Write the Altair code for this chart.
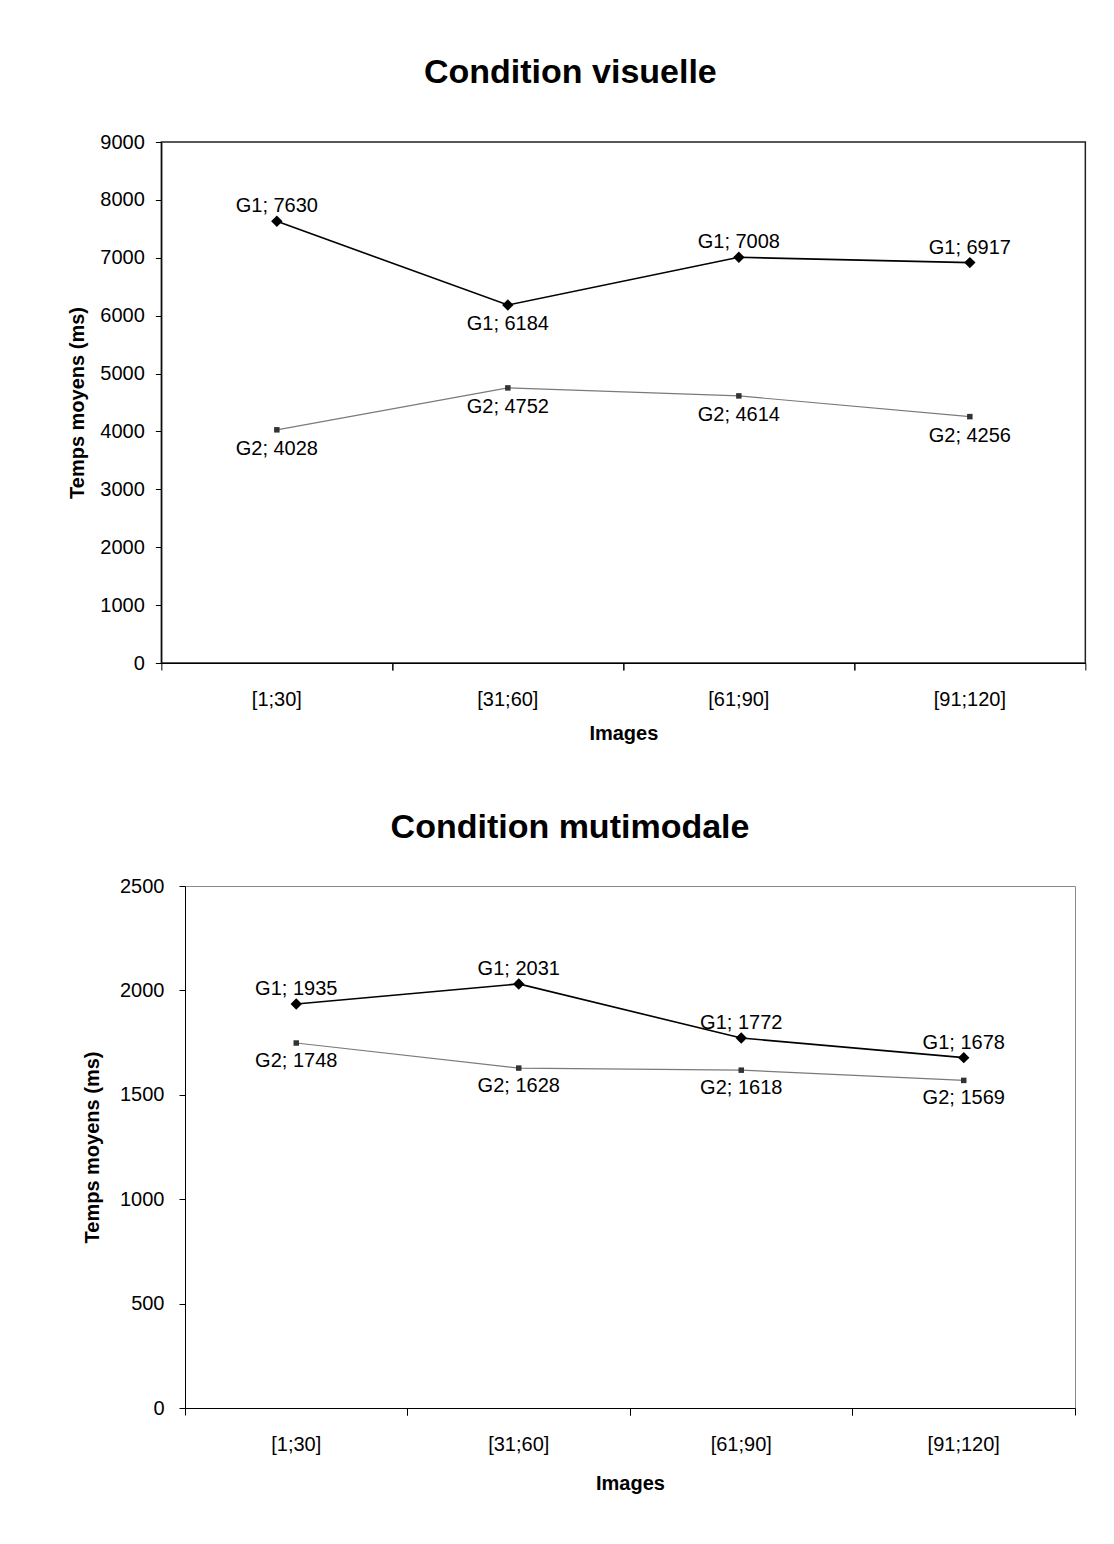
import altair as alt
import pandas as pd

categories = ["[1;30]", "[31;60]", "[61;90]", "[91;120]"]
groups = ["G1", "G2"]

visuelle_g1 = [7630, 6184, 7008, 6917]
visuelle_g2 = [4028, 4752, 4614, 4256]
multi_g1 = [1935, 2031, 1772, 1678]
multi_g2 = [1748, 1628, 1618, 1569]

visuelle_ticks = [0, 1000, 2000, 3000, 4000, 5000, 6000, 7000, 8000, 9000]
multi_ticks = [0, 500, 1000, 1500, 2000, 2500]

# which side of the point each data label sits on
visuelle_side = {"G1": ["above", "below", "above", "above"], "G2": ["below", "below", "below", "below"]}
multi_side = {"G1": ["above", "above", "above", "above"], "G2": ["below", "below", "below", "below"]}

FONT = "Liberation Sans"


def make_df(g1, g2, side):
    rows = []
    for g, vals in (("G1", g1), ("G2", g2)):
        for c, v, s in zip(categories, vals, side[g]):
            rows.append({"cat": c, "group": g, "value": v, "label": f"{g}; {v}", "side": s})
    return pd.DataFrame(rows)


def panel(df, title, ymax, ticks, width, height, stroke, stroke_w,
          lab_pad, title_pad, up_dy, down_dy, title_offset, title_dx, x_title_pad, right_spacer):
    xscale = alt.Scale(type="band", domain=categories, paddingInner=0, paddingOuter=0)
    yscale = alt.Scale(domain=[0, ymax], nice=False, zero=True)
    y_left = alt.Y("value:Q", scale=yscale,
                   axis=alt.Axis(values=ticks, format="d", grid=False, domainColor="black",
                                 tickColor="black", tickSize=6, labelPadding=lab_pad,
                                 labelFontSize=20, title="Temps moyens (ms)", titleFontSize=20,
                                 titleFontWeight="bold", titlePadding=title_pad,
                                 labelColor="black", titleColor="black"))
    y_none = alt.Y("value:Q", scale=yscale, axis=None)
    if right_spacer:
        # invisible right-hand axis: only reserves a little room so the panels line up
        y_last = alt.Y("value:Q", scale=yscale,
                       axis=alt.Axis(orient="right", values=[0], format="d", grid=False,
                                     domain=False, ticks=False, tickSize=0, labelPadding=8,
                                     labelFontSize=10, labelOpacity=0, title=None))
    else:
        y_last = y_none
    x_ticks_axis = alt.Axis(orient="bottom", labels=False, ticks=True, tickSize=7, bandPosition=0,
                            domainColor="black", tickColor="black", title=None, grid=False)
    x_end_ticks_axis = alt.Axis(orient="bottom", labels=False, ticks=True, tickSize=7,
                                bandPosition=1, domain=False, tickColor="black", title=None,
                                grid=False)
    x_labels_axis = alt.Axis(orient="bottom", labels=True, ticks=False, tickSize=0, domain=False,
                             labelFontSize=20, labelPadding=26, labelAngle=0,
                             title="Images", titleFontSize=20, titleFontWeight="bold",
                             titlePadding=x_title_pad, labelColor="black", titleColor="black")
    base = alt.Chart(df)
    color = alt.Color("group:N", scale=alt.Scale(domain=groups, range=["#000000", "#7a7a7a"]),
                      legend=None)
    lines = base.mark_line().encode(
        x=alt.X("cat:N", scale=xscale, axis=x_ticks_axis),
        y=y_left,
        color=color,
        strokeWidth=alt.StrokeWidth("group:N", scale=alt.Scale(domain=groups, range=[1.6, 1.2]),
                                    legend=None),
        detail="group:N",
    )
    pts = base.mark_point(filled=True, opacity=1).encode(
        x=alt.X("cat:N", scale=xscale, axis=x_end_ticks_axis),
        y=y_none,
        shape=alt.Shape("group:N", scale=alt.Scale(domain=groups, range=["diamond", "square"]),
                        legend=None),
        size=alt.Size("group:N", scale=alt.Scale(domain=groups, range=[130, 30]), legend=None),
        color=alt.Color("group:N", scale=alt.Scale(domain=groups, range=["#000000", "#333333"]),
                        legend=None),
    )
    txt_up = base.transform_filter(alt.datum.side == "above").mark_text(
        font=FONT, fontSize=20, baseline="middle", dy=up_dy, color="black"
    ).encode(
        x=alt.X("cat:N", scale=xscale, axis=None),
        y=y_none,
        text="label:N",
    )
    txt_down = base.transform_filter(alt.datum.side == "below").mark_text(
        font=FONT, fontSize=20, baseline="middle", dy=down_dy, color="black"
    ).encode(
        x=alt.X("cat:N", scale=xscale, axis=x_labels_axis),
        y=y_last,
        text="label:N",
    )
    return alt.layer(lines, pts, txt_up, txt_down).resolve_axis(
        x="independent", y="independent"
    ).resolve_scale(color="independent").properties(
        width=width, height=height,
        title=alt.TitleParams(title, fontSize=34, font=FONT, fontWeight="bold",
                              offset=title_offset, anchor="middle", frame="bounds",
                              dx=title_dx, color="black"),
        view=alt.ViewBackground(stroke=stroke, strokeWidth=stroke_w),
    )


df1 = make_df(visuelle_g1, visuelle_g2, visuelle_side)
df2 = make_df(multi_g1, multi_g2, multi_side)

c1 = panel(df1, "Condition visuelle", 9000, visuelle_ticks, 924, 521, "#222222", 1.5,
           11, 12, -15, 19, 42, -13, 14, True)
c2 = panel(df2, "Condition mutimodale", 2500, multi_ticks, 890, 522, "#8a8a8a", 1,
           15, 17, -15, 18, 31, -9, 19, False)

chart = alt.vconcat(c1, c2, spacing=66, center=True).properties(
    padding={"left": 59, "top": 47, "right": 5, "bottom": 5}
).configure(
    font=FONT
).configure_axis(
    labelFont=FONT, titleFont=FONT
).configure_view(stroke=None)

chart.save("out.html", embed_options={"renderer": "svg", "actions": False})
